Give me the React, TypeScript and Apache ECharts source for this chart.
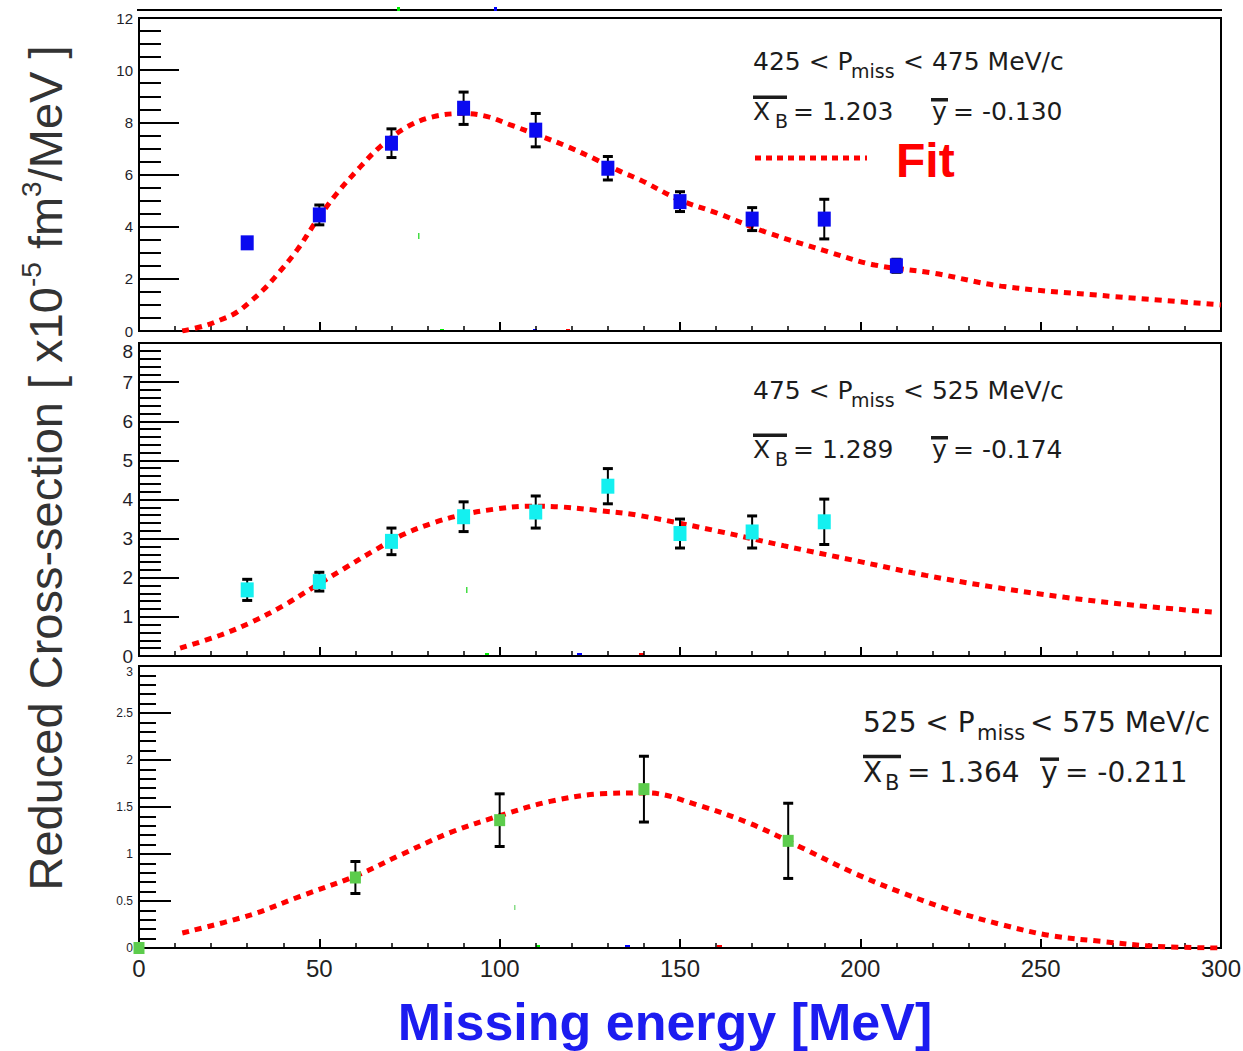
import React, { useEffect, useRef } from "react";
import * as echarts from "echarts";

// ---------- data ----------
const topX = [30, 50, 70, 90, 110, 130, 150, 170, 190, 210];
const topY = [3.38, 4.45, 7.2, 8.54, 7.7, 6.24, 4.96, 4.29, 4.29, 2.5];
const topErr = [0.18, 0.38, 0.55, 0.62, 0.64, 0.45, 0.38, 0.44, 0.76, 0.25];

const midX = [30, 50, 70, 90, 110, 130, 150, 170, 190];
const midY = [1.69, 1.9, 2.93, 3.56, 3.68, 4.34, 3.13, 3.17, 3.43];
const midErr = [0.27, 0.24, 0.34, 0.38, 0.41, 0.45, 0.37, 0.41, 0.58];

const botX = [0, 60, 100, 140, 180];
const botY = [0, 0.75, 1.36, 1.69, 1.14];
const botErr = [0, 0.17, 0.28, 0.35, 0.4];

const fitTopX = [12, 17.9, 22.5, 26.9, 30.8, 34.4, 37.8, 43.8, 49.4, 54.9, 61.4, 66.9, 74.4, 81.7, 90, 96.6, 103, 110.5, 118.8, 126, 133.6, 139, 150, 160.5, 173.4, 191, 204, 220.6, 239, 267, 300];
const fitTopY = [0.0, 0.19, 0.42, 0.7, 1.12, 1.57, 2.08, 3.1, 4.26, 5.28, 6.3, 7.07, 7.83, 8.22, 8.34, 8.22, 7.9, 7.52, 7.07, 6.62, 6.11, 5.79, 5.02, 4.51, 3.81, 3.04, 2.53, 2.21, 1.72, 1.36, 1.0];

const fitMidX = [11.4, 22.5, 31.3, 40.1, 48.4, 56.8, 65.1, 73.4, 81.8, 90.1, 98.4, 107.7, 117, 127.1, 138.2, 160, 178.7, 198.5, 218.2, 237, 256.7, 276.5, 298];
const fitMidY = [0.2, 0.53, 0.87, 1.29, 1.76, 2.23, 2.69, 3.11, 3.41, 3.62, 3.75, 3.83, 3.81, 3.72, 3.6, 3.2, 2.82, 2.44, 2.06, 1.76, 1.5, 1.29, 1.12];

const fitBotX = [12, 30.8, 44.7, 60.3, 72.5, 86.4, 100.3, 114, 128, 140.8, 155.8, 169.7, 183.6, 197.5, 211.4, 225.3, 239, 253, 267, 281, 299];
const fitBotY = [0.16, 0.35, 0.55, 0.77, 0.99, 1.23, 1.41, 1.56, 1.64, 1.65, 1.51, 1.32, 1.07, 0.81, 0.59, 0.4, 0.25, 0.13, 0.07, 0.02, 0.0];

const xTickInterval = 50;

// ---------- helpers ----------
const FONT = "'Liberation Sans', Arial, sans-serif";
const ANN = "'DejaVu Sans', sans-serif";
const TXT = "#1c1c1c";

const pairs = (xs: number[], ys: number[]) => xs.map((x, i) => [x, ys[i]]);
const errRows = (xs: number[], ys: number[], es: number[]) =>
  xs.map((x, i) => [x, ys[i], ys[i] - es[i], ys[i] + es[i]]);

const mkX = (gi: number, showLabels: boolean) => ({
  type: "value",
  gridIndex: gi,
  min: 0,
  max: 300,
  interval: xTickInterval,
  axisLine: { show: true, onZero: false, lineStyle: { color: "#000", width: 2 } },
  axisTick: { show: true, inside: true, length: 9, lineStyle: { color: "#000", width: 2 } },
  minorTick: { show: true, splitNumber: 5, length: 5, lineStyle: { color: "#000", width: 1.5 } },
  splitLine: { show: false },
  axisLabel: { show: showLabels, fontSize: 24, color: "#222", fontFamily: FONT, margin: 8 },
});

const mkY = (gi: number, max: number, interval: number, minorSplit: number, fs: number, majLen: number, minLen: number, pushMax: boolean) => ({
  type: "value",
  gridIndex: gi,
  min: 0,
  max,
  interval,
  axisLine: { show: true, onZero: false, lineStyle: { color: "#000", width: 2 } },
  axisTick: { show: true, inside: true, length: majLen, lineStyle: { color: "#000", width: 2 } },
  minorTick: { show: true, splitNumber: minorSplit, length: minLen, lineStyle: { color: "#000", width: 2 } },
  splitLine: { show: false },
  axisLabel: {
    fontSize: fs,
    color: "#1e1e2a",
    fontFamily: FONT,
    margin: 6,
    formatter: (v: number) => (pushMax && v === max ? `{t|${v}}` : `${v}`),
    rich: { t: { fontSize: fs, fontFamily: FONT, color: "#1e1e2a", padding: [Math.round(fs * 0.9), 0, 0, 0] } },
  },
});

const errSeries = (idx: number, data: number[][]) => ({
  type: "custom",
  xAxisIndex: idx,
  yAxisIndex: idx,
  data,
  z: 3,
  encode: { x: 0, y: [1, 2, 3] },
  renderItem: (_p: any, api: any) => {
    const x = api.value(0);
    const lo = api.value(2);
    const hi = api.value(3);
    if (!(hi - lo > 0)) return { type: "group", children: [] };
    const a = api.coord([x, hi]);
    const b = api.coord([x, lo]);
    const w = 5;
    return {
      type: "group",
      children: [
        { type: "line", shape: { x1: a[0], y1: a[1], x2: b[0], y2: b[1] }, style: { stroke: "#000", lineWidth: 2 } },
        { type: "line", shape: { x1: a[0] - w, y1: a[1], x2: a[0] + w, y2: a[1] }, style: { stroke: "#000", lineWidth: 3 } },
        { type: "line", shape: { x1: b[0] - w, y1: b[1], x2: b[0] + w, y2: b[1] }, style: { stroke: "#000", lineWidth: 3 } },
      ],
    };
  },
});

const ptSeries = (idx: number, data: number[][], color: string, size: number[]) => ({
  type: "scatter",
  xAxisIndex: idx,
  yAxisIndex: idx,
  data,
  symbol: "rect",
  symbolSize: size,
  itemStyle: { color, opacity: 1 },
  z: 4,
});

const fitSeries = (idx: number, data: number[][]) => ({
  type: "line",
  xAxisIndex: idx,
  yAxisIndex: idx,
  data,
  smooth: 0.35,
  showSymbol: false,
  symbol: "none",
  lineStyle: { color: "#ff0000", width: 5, type: [7, 6] },
  z: 2,
});

const txt = (x: number, y: number, text: string, size: number, extra: any = {}) => ({
  type: "text",
  x,
  y,
  style: { text, fontSize: size, fontFamily: ANN, fill: TXT, align: "left", verticalAlign: "middle", ...extra },
});
const bar = (x: number, y: number, w: number, h: number, color = TXT) => ({
  type: "rect",
  shape: { x, y, width: w, height: h },
  style: { fill: color },
});

const annotation = (
  x0: number, cy1: number, cy2: number, lo: string, hi: string, xb: string, yb: string,
  fs: number, subFs: number, pos: { miss: number; rest: number; b: number; eq1: number; y: number; eq2: number; xbarW: number }
) => [
  txt(x0, cy1, `${lo} < P`, fs),
  txt(pos.miss, cy1 + fs * 0.4, "miss", subFs),
  txt(pos.rest, cy1, `< ${hi} MeV/c`, fs),
  txt(x0, cy2, "X", fs),
  bar(x0, cy2 - fs * 0.62, pos.xbarW, 3.5),
  txt(pos.b, cy2 + fs * 0.4, "B", subFs),
  txt(pos.eq1, cy2, `= ${xb}`, fs),
  txt(pos.y, cy2, "y", fs),
  bar(pos.y - 1, cy2 - fs * 0.52, fs * 0.68, 3.5),
  txt(pos.eq2, cy2, `= ${yb}`, fs),
];

export default function App() {
  const ref = useRef<HTMLDivElement>(null);
  useEffect(() => {
    if (!ref.current) return;
    const chart = echarts.init(ref.current, null, { renderer: "svg" });
    const gridBase = { show: true, borderColor: "#000", borderWidth: 2, containLabel: false, outerBoundsMode: "none" };
    const option: any = {
      animation: false,
      backgroundColor: "#fff",
      grid: [
        { ...gridBase, left: 139, top: 18, width: 1082, height: 313 },
        { ...gridBase, left: 139, top: 343, width: 1082, height: 313 },
        { ...gridBase, left: 139, top: 666, width: 1082, height: 282 },
      ],
      xAxis: [mkX(0, false), mkX(1, false), mkX(2, true)],
      yAxis: [
        mkY(0, 12, 2, 4, 15, 40, 22, false),
        mkY(1, 8, 1, 5, 19, 40, 22, true),
        mkY(2, 3, 0.5, 5, 12, 32, 17, true),
      ],
      series: [
        fitSeries(0, pairs(fitTopX, fitTopY)),
        errSeries(0, errRows(topX, topY, topErr)),
        ptSeries(0, pairs(topX, topY), "#0a0af0", [13, 15]),
        fitSeries(1, pairs(fitMidX, fitMidY)),
        errSeries(1, errRows(midX, midY, midErr)),
        ptSeries(1, pairs(midX, midY), "#14f0f0", [13, 15]),
        fitSeries(2, pairs(fitBotX, fitBotY)),
        errSeries(2, errRows(botX, botY, botErr)),
        ptSeries(2, pairs(botX, botY), "#5ccc4c", [11, 12]),
      ],
      graphic: [
        // cut-off panel above
        { type: "line", shape: { x1: 137, y1: 10, x2: 1222, y2: 10 }, style: { stroke: "#000", lineWidth: 2 } },
        // y title
        {
          type: "text",
          x: 45,
          y: 468,
          rotation: Math.PI / 2,
          style: {
            text: "{n|Reduced Cross-section [ x10}{s|-5}{n| fm}{s|3}{n|/MeV ]}",
            align: "center",
            verticalAlign: "middle",
            fill: "#333",
            rich: {
              n: { fontSize: 47, lineHeight: 56, fontFamily: FONT, fill: "#333" },
              s: { fontSize: 28, lineHeight: 28, verticalAlign: "top", fontFamily: FONT, fill: "#333" },
            },
          },
        },
        // x title
        {
          type: "text",
          x: 665,
          y: 1022,
          style: {
            text: "Missing energy [MeV]",
            fontSize: 52,
            fontWeight: "bold",
            fontFamily: FONT,
            fill: "#1c1cf0",
            align: "center",
            verticalAlign: "middle",
          },
        },
        // annotations
        ...annotation(753, 61, 111, "425", "475", "1.203", "-0.130", 25, 19, { miss: 851, rest: 903, b: 775, eq1: 793, y: 932, eq2: 953, xbarW: 34 }),
        ...annotation(753, 390, 449, "475", "525", "1.289", "-0.174", 25, 19, { miss: 851, rest: 903, b: 775, eq1: 793, y: 932, eq2: 953, xbarW: 34 }),
        ...annotation(863, 722, 772, "525", "575", "1.364", "-0.211", 28, 21, { miss: 977, rest: 1030, b: 885, eq1: 907, y: 1041, eq2: 1065, xbarW: 38 }),
        // fit legend
        { type: "line", shape: { x1: 755, y1: 158, x2: 867, y2: 158 }, style: { stroke: "#ff0000", lineWidth: 5, lineDash: [6, 5] } },
        {
          type: "text",
          x: 896,
          y: 160,
          style: { text: "Fit", fontSize: 48, fontWeight: "bold", fontFamily: FONT, fill: "#ff0000", align: "left", verticalAlign: "middle" },
        },
        // small coloured specks
        bar(397, 7, 3, 4, "#00ee00"),
        bar(494, 7, 3, 4, "#0000ff"),
        bar(440, 329, 4, 3, "#00ee00"),
        bar(533, 329, 4, 3, "#0000ff"),
        bar(566, 329, 4, 3, "#ff0000"),
        bar(485, 653, 4, 4, "#00ee00"),
        bar(577, 653, 5, 4, "#0000ff"),
        bar(639, 653, 5, 4, "#ff0000"),
        bar(536, 945, 4, 4, "#00ee00"),
        bar(625, 945, 5, 4, "#0000ff"),
        bar(717, 945, 5, 4, "#ff0000"),
        bar(418, 233, 1.5, 6, "#44dd44"),
        bar(466, 587, 1.5, 6, "#44dd44"),
        bar(514, 905, 1.5, 5, "#88dd88"),
      ],
    };
    chart.setOption(option);
    return () => chart.dispose();
  }, []);
  return (
    <div
      ref={ref}
      style={{ position: "absolute", left: 0, top: 0, width: 1243, height: 1051, background: "#fff" }}
    />
  );
}
